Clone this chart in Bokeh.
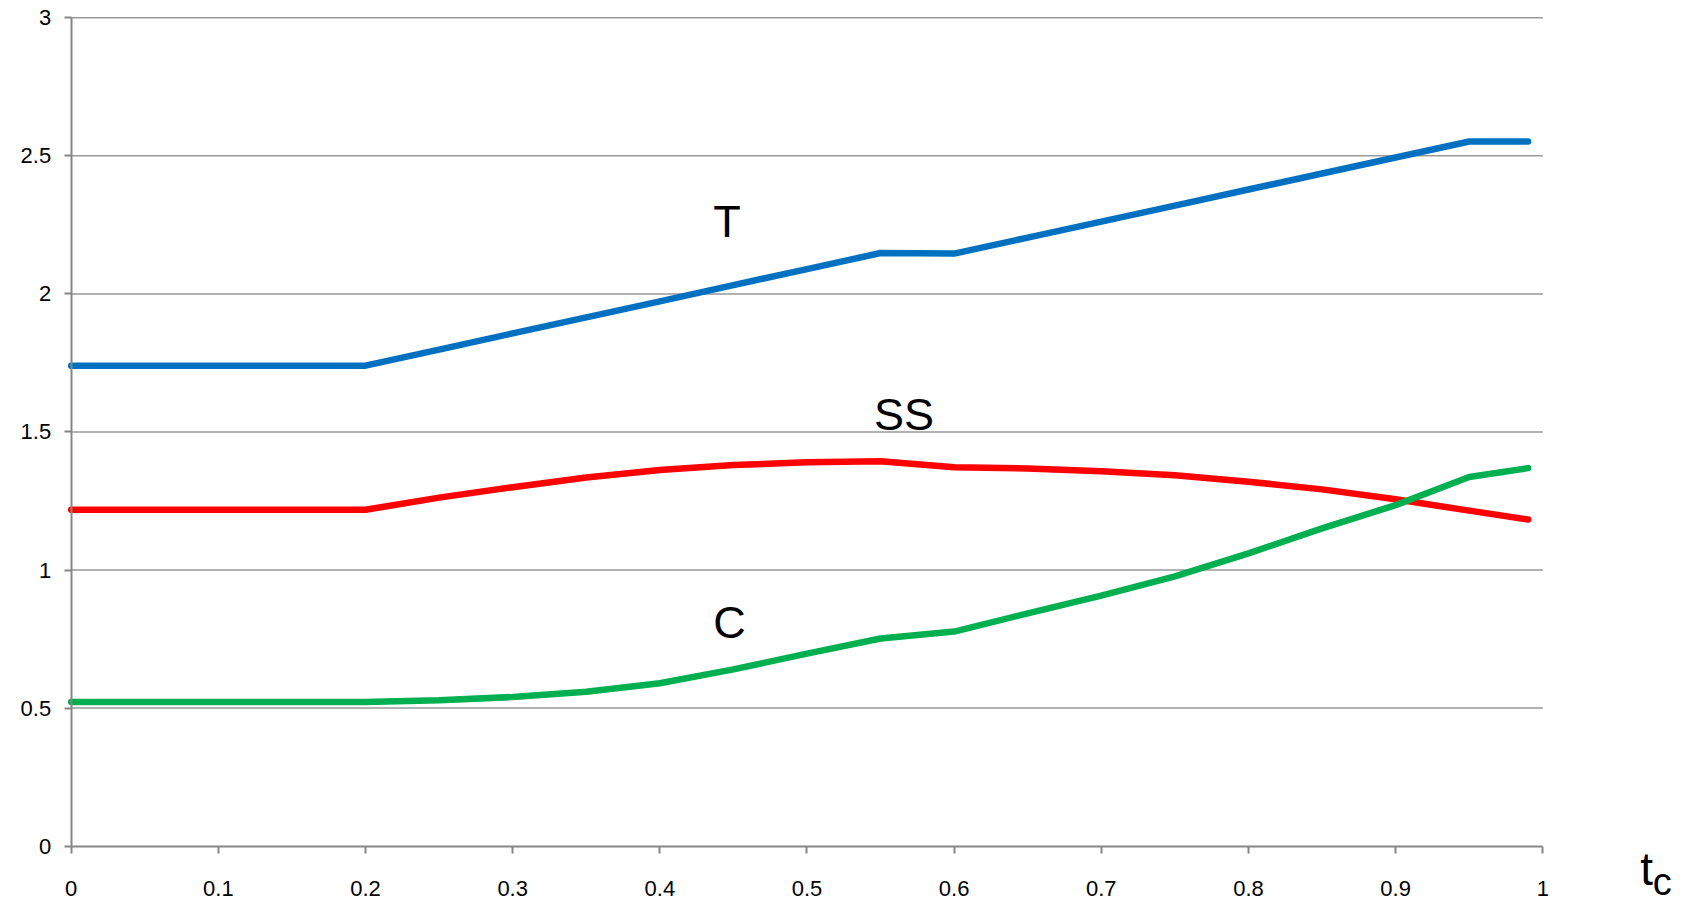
from bokeh.plotting import figure
from bokeh.models import FixedTicker, CustomJSTickFormatter, Label, Range1d, LinearAxis
from bokeh.embed import file_html
from bokeh.resources import INLINE

# ---- data ----
tc = [0.0, 0.05, 0.1, 0.15, 0.2, 0.25, 0.3, 0.35, 0.4, 0.45, 0.5,
      0.55, 0.6, 0.65, 0.7, 0.75, 0.8, 0.85, 0.9, 0.95, 0.99]
T_vals = [1.74, 1.74, 1.74, 1.74, 1.74, 1.798, 1.857, 1.915, 1.973, 2.032, 2.090,
          2.148, 2.146, 2.204, 2.262, 2.320, 2.378, 2.436, 2.494, 2.552, 2.552]
SS_vals = [1.218, 1.218, 1.218, 1.218, 1.218, 1.262, 1.300, 1.335, 1.362, 1.380, 1.390,
           1.394, 1.372, 1.368, 1.358, 1.343, 1.320, 1.292, 1.256, 1.215, 1.183]
C_vals = [0.522, 0.522, 0.522, 0.522, 0.522, 0.528, 0.540, 0.559, 0.590, 0.640, 0.697,
          0.752, 0.777, 0.843, 0.907, 0.977, 1.060, 1.151, 1.235, 1.337, 1.369]

x_ticks = [0, 0.1, 0.2, 0.3, 0.4, 0.5, 0.6, 0.7, 0.8, 0.9, 1]
y_ticks = [0, 0.5, 1, 1.5, 2, 2.5, 3]
grid_y = [0.5, 1, 1.5, 2, 2.5, 3]
x_min, x_max = 0, 1
y_min, y_max = 0, 3

series_names = ["T", "SS", "C"]
series_colors = ["#0070C0", "#FF0000", "#00B050"]
# label anchor positions (data coords): x centre, vertical centre
label_pos = [(0.4456, 2.263), (0.566, 1.565), (0.4474, 0.810)]

FONT = "Liberation Sans"
AX = "#868686"
GRID = "#999999"

# the frame covers the whole canvas; both axes are pinned at 0
p = figure(frame_width=1692, frame_height=903,
           x_range=Range1d(-0.04804, 1.10173), y_range=Range1d(-0.2079, 3.0627),
           x_axis_location=None, y_axis_location=None,
           output_backend="svg", toolbar_location=None,
           min_border_left=0, min_border_top=0, min_border_right=0,
           min_border_bottom=0)
p.outline_line_color = None
p.background_fill_color = "white"
p.border_fill_color = "white"
p.xgrid.visible = False
p.ygrid.visible = False

# horizontal gridlines limited to the x-axis extent
p.segment(x0=[x_min] * len(grid_y), x1=[x_max] * len(grid_y), y0=grid_y, y1=grid_y,
          line_color=GRID, line_width=1.5)

for vals, col in zip([T_vals, SS_vals, C_vals], series_colors):
    p.line(tc, vals, line_color=col, line_width=6.5,
           line_cap="round", line_join="round")

for name, (lx, ly) in zip(series_names, label_pos):
    p.add_layout(Label(x=lx, y=ly, text=name, text_font=FONT,
                       text_font_size="45px", text_color="black",
                       text_align="center", text_baseline="middle"))

# t_c axis title
p.add_layout(Label(x=1.0705, y=-0.0826, text="t", text_font=FONT,
                   text_font_size="46px", text_color="black",
                   text_align="center", text_baseline="middle"))
p.add_layout(Label(x=1.0812, y=-0.129, text="c", text_font=FONT,
                   text_font_size="38px", text_color="black",
                   text_align="center", text_baseline="middle"))

fmt = CustomJSTickFormatter(code="return String(Math.round(tick*10)/10);")

xax = LinearAxis(fixed_location=0, bounds=(x_min, x_max))
yax = LinearAxis(fixed_location=0, bounds=(y_min, y_max))
p.add_layout(xax, "below")
p.add_layout(yax, "left")

for ax, ticks, standoff in [(xax, x_ticks, 28), (yax, y_ticks, 13)]:
    ax.ticker = FixedTicker(ticks=ticks)
    ax.formatter = fmt
    ax.axis_line_color = AX
    ax.axis_line_width = 2
    ax.major_tick_line_color = AX
    ax.major_tick_line_width = 2
    ax.major_tick_in = 0
    ax.major_tick_out = 7
    ax.minor_tick_line_color = None
    ax.major_label_text_font = FONT
    ax.major_label_text_font_size = "22px"
    ax.major_label_text_color = "black"
    ax.major_label_standoff = standoff

open("out.html", "w").write(file_html(p, INLINE))
